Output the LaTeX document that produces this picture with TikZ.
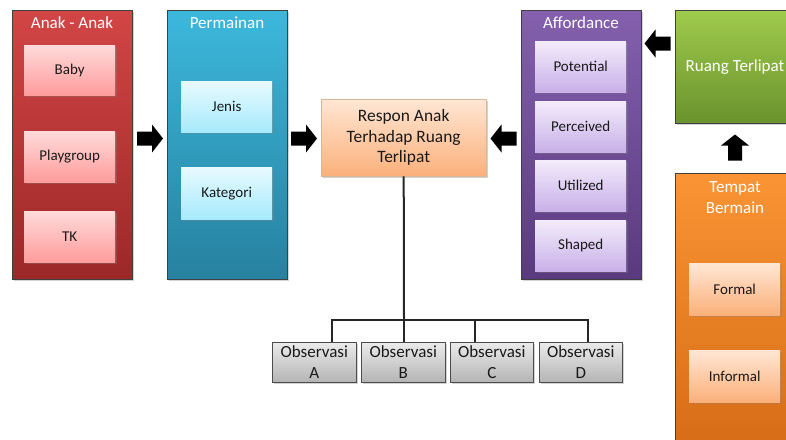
\documentclass[tikz,border=0pt]{standalone}
\usepackage{fontspec}
\setmainfont{Carlito}
\usetikzlibrary{shadows}
\definecolor{redT}{HTML}{D24545}
\definecolor{redB}{HTML}{9C2828}
\definecolor{pinkT}{HTML}{FFDADA}
\definecolor{pinkB}{HTML}{FF9C9C}
\definecolor{blueT}{HTML}{3CB8DC}
\definecolor{blueB}{HTML}{27819F}
\definecolor{cyanT}{HTML}{E8FAFF}
\definecolor{cyanB}{HTML}{A6EAFC}
\definecolor{purT}{HTML}{8460AE}
\definecolor{purB}{HTML}{5A3A7E}
\definecolor{lavT}{HTML}{F3ECFB}
\definecolor{lavB}{HTML}{C9B0E8}
\definecolor{peachT}{HTML}{FFE6D4}
\definecolor{peachB}{HTML}{FBB07A}
\definecolor{grnT}{HTML}{9FCB4C}
\definecolor{grnB}{HTML}{6A922E}
\definecolor{orgT}{HTML}{FA9434}
\definecolor{orgB}{HTML}{D56C16}
\definecolor{grayT}{HTML}{EBEBEB}
\definecolor{grayB}{HTML}{B4B4B4}
\begin{document}
\begin{tikzpicture}[x=1pt,y=-1pt,
  shade/.style={drop shadow={shadow xshift=1.5pt,shadow yshift=-1.5pt,opacity=0.35}},
  container/.style={draw=black!75,line width=0.6pt,anchor=north west,inner sep=0pt,shade,minimum width=120pt},
  subbox/.style={anchor=north west,inner sep=0pt,minimum width=91pt,shade,font=\fontsize{15}{18}\selectfont,text=black!90},
  title/.style={text=white,font=\fontsize{17}{21}\selectfont,align=center,inner sep=0pt},
  obsbox/.style={draw=black!70,line width=0.6pt,anchor=north west,inner sep=0pt,minimum height=40pt,top color=grayT,bottom color=grayB,shade,font=\fontsize{17}{20.5}\selectfont,align=center,text=black!90},
  conn/.style={line width=2pt,black!85},
  barrow/.pic={\fill[black] (-13,-7) -- (2,-7) -- (2,-14) -- (13,0) -- (2,14) -- (2,7) -- (-13,7) -- cycle;}
]
\useasboundingbox (0,0) rectangle (786,439);
\clip (0,0) rectangle (786,439);
% red container
\node[container,minimum height=269pt,top color=redT,bottom color=redB] (anak) at (12,10) {};
\node[title] (anakT) at (72,22.5) {Anak - Anak};
\node[subbox,minimum height=50pt,top color=pinkT,bottom color=pinkB] (baby) at (24,45) {Baby};
\node[subbox,minimum height=51pt,top color=pinkT,bottom color=pinkB] (play) at (24,131) {Playgroup};
\node[subbox,minimum height=51pt,top color=pinkT,bottom color=pinkB] (tk) at (24,211) {TK};
% blue container
\node[container,minimum height=269pt,top color=blueT,bottom color=blueB] (perm) at (167,10) {};
\node[title] (permT) at (227,22.5) {Permainan};
\node[subbox,minimum height=51pt,top color=cyanT,bottom color=cyanB] (jenis) at (181,81) {Jenis};
\node[subbox,minimum height=52pt,top color=cyanT,bottom color=cyanB] (kat) at (181,167) {Kategori};
% center
\node[anchor=north west,inner sep=0pt,minimum width=165pt,minimum height=77pt,top color=peachT,bottom color=peachB,draw=orange!60!black!40,line width=0.4pt,shade] (resp) at (321,99) {};
\node[align=center,font=\fontsize{17.4}{20.5}\selectfont,text=black!90,inner sep=0pt] (respT) at (resp.center) {Respon Anak\\Terhadap Ruang\\Terlipat};
% purple container
\node[container,minimum height=269pt,top color=purT,bottom color=purB] (aff) at (521,10) {};
\node[title] (affT) at (581,22.5) {Affordance};
\node[subbox,minimum height=51pt,top color=lavT,bottom color=lavB] (pot) at (535,41) {Potential};
\node[subbox,minimum height=51pt,top color=lavT,bottom color=lavB] (perc) at (535,101) {Perceived};
\node[subbox,minimum height=51pt,top color=lavT,bottom color=lavB] (util) at (535,160) {Utilized};
\node[subbox,minimum height=51pt,top color=lavT,bottom color=lavB] (shap) at (535,220) {Shaped};
% green box
\node[container,minimum height=113pt,top color=grnT,bottom color=grnB] (ruang) at (675,10) {};
\node[title] (ruangT) at (735,67) {Ruang Terlipat};
% orange container
\node[container,minimum height=280pt,top color=orgT,bottom color=orgB] (tempat) at (675,173) {};
\node[title] (tempatT) at (735,197.5) {Tempat\\Bermain};
\node[subbox,minimum height=52pt,top color=peachT,bottom color=peachB] (formal) at (689,263) {Formal};
\node[subbox,minimum height=52pt,top color=peachT,bottom color=peachB] (informal) at (689,350) {Informal};
% block arrows
\pic at (150,138.5) {barrow};
\pic at (304,138.5) {barrow};
\pic[rotate=180] at (503.5,138.5) {barrow};
\pic[rotate=180] at (657.5,43.5) {barrow};
\pic[rotate=90] at (735,147.5) {barrow};
% observations
\node[obsbox,minimum width=84pt] (obsA) at (272,342) {Observasi\\A};
\node[obsbox,minimum width=84pt] (obsB) at (361,342) {Observasi\\B};
\node[obsbox,minimum width=83pt] (obsC) at (450,342) {Observasi\\C};
\node[obsbox,minimum width=83pt] (obsD) at (539,342) {Observasi\\D};
\coordinate (bus) at (404,320);
\draw[conn] (resp.south) -- (bus);
\draw[conn] ([xshift=18pt]obsA.north) |- (bus);
\draw[conn] ([xshift=1pt]obsB.north) -- ([xshift=1pt]obsB.north |- bus);
\draw[conn] ([xshift=-16.5pt]obsC.north) |- (bus);
\draw[conn] ([xshift=7.5pt]obsD.north) |- (bus);
\end{tikzpicture}
\end{document}
